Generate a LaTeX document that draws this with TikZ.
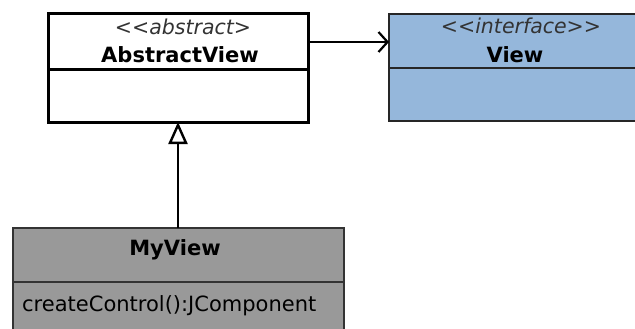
\documentclass[tikz,border=0pt]{standalone}
\usepackage{fontspec}
\setmainfont{DejaVu Sans}
\usetikzlibrary{arrows.meta}
\definecolor{ifaceblue}{RGB}{149,183,219}
\definecolor{implgray}{RGB}{153,153,153}
\tikzset{
  classbox/.style={rectangle, anchor=north west, inner sep=0pt, outer sep=0pt},
  stereo/.style={anchor=base, inner sep=0pt, text=black!80, font=\fontsize{20.5}{24}\selectfont\itshape},
  cname/.style={anchor=base, inner sep=0pt, font=\fontsize{21}{24}\selectfont\bfseries},
  member/.style={anchor=base west, inner sep=0pt, font=\fontsize{21}{24}\selectfont},
  assoc/.style={line width=2pt, -{Straight Barb[length=9pt,width=20pt,line width=2.2pt]}},
  inherit/.style={line width=1.3pt, -{Triangle[open,length=22pt,width=19pt,line width=2.4pt,fill=white]}}
}
\begin{document}
\begin{tikzpicture}[x=1pt,y=-1pt]
  \useasboundingbox (0,0) rectangle (635,329);
  \begin{scope}
    \clip (0,0) rectangle (635,329);
    % abstract base class
    \node[classbox, draw=black, line width=3pt, fill=white,
          minimum width=260pt, minimum height=108pt] (abstract) at (48,14) {};
    \draw[line width=3pt] (48,70) -- (308,70);
    \node[stereo] (absstereo) at (183,35) {<{}<abstract>};
    \node[cname] (absname) at (180,63) {AbstractView};

    % interface
    \node[classbox, draw=black!85, line width=1.5pt, fill=ifaceblue,
          minimum width=256pt, minimum height=107pt] (view) at (389,14) {};
    \draw[line width=1.5pt, black!85] (389,68) -- (645,68);
    \node[stereo] (viewstereo) at (521,34) {<{}<interface>{}>};
    \node[cname] (viewname) at (515,63) {View};

    % concrete class
    \node[classbox, draw=black!80, line width=1.3pt, fill=implgray,
          minimum width=331pt, minimum height=120pt] (myview) at (13,228) {};
    \draw[line width=1.3pt, black!80] (13,282) -- (344,282);
    \node[cname] (myname) at (175,255) {MyView};
    \node[member] (myop) at (22,311) {createControl():JComponent};
  \end{scope}

  % association and generalisation
  \draw[assoc] ([yshift=-28pt]abstract.north east) -- ([yshift=-28pt]view.north west);
  \draw[inherit] (myview.north -| 178,0) -- (abstract.south -| 178,0);
\end{tikzpicture}
\end{document}
